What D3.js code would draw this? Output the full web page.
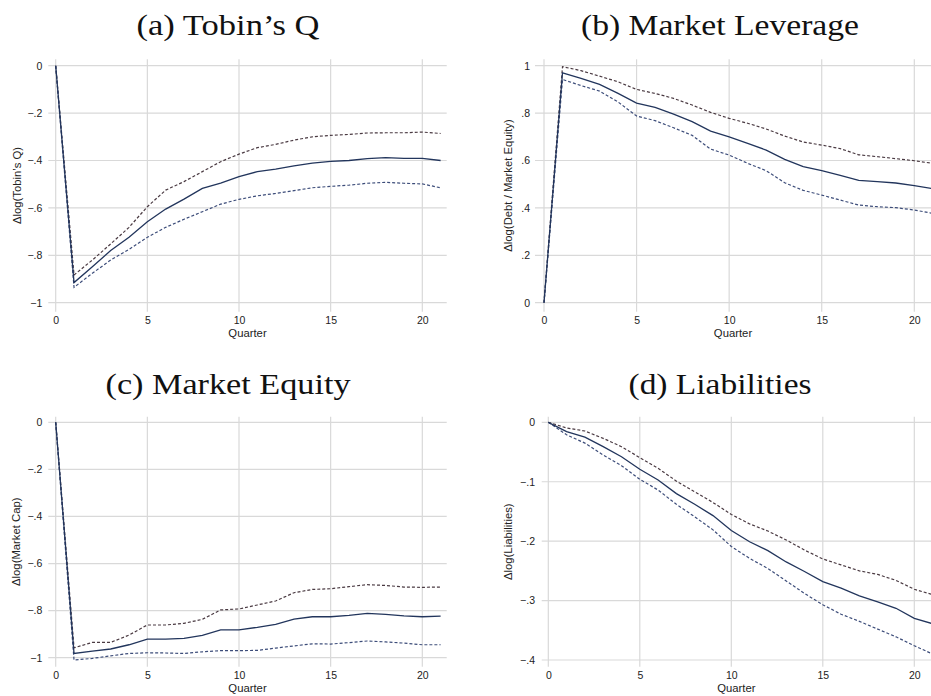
<!DOCTYPE html>
<html lang="en">
<head>
    <meta charset="UTF-8">
    <title>Impulse responses</title>
    <script src="https://d3js.org/d3.v7.min.js"></script>
    <style>
        body { margin: 0; background: #fff; }
        .title { font-family: "Liberation Serif", serif; font-size: 29px; fill: #111; }
        .tick text { font-family: "Liberation Sans", Arial, sans-serif; font-size: 10.5px; fill: #222; }
        .axis-label { font-family: "Liberation Sans", Arial, sans-serif; font-size: 11.3px; fill: #222; }
        .grid { stroke: #d9d9d9; stroke-width: 1.2; }
    </style>
</head>
<body>
    <script>
        const quarters = [0, 1, 2, 3, 4, 5, 6, 7, 8, 9, 10, 11, 12, 13, 14, 15, 16, 17, 18, 19, 20, 21]
        const xTicks = [0, 5, 10, 15, 20]

        const tobinQ = [0, -0.915, -0.848, -0.78, -0.724, -0.658, -0.605, -0.563, -0.518, -0.495, -0.468, -0.447, -0.436, -0.423, -0.411, -0.404, -0.40, -0.392, -0.388, -0.391, -0.391, -0.40]
        const tobinQUpper = [0, -0.883, -0.82, -0.752, -0.682, -0.595, -0.525, -0.489, -0.447, -0.405, -0.373, -0.346, -0.332, -0.314, -0.30, -0.294, -0.29, -0.284, -0.283, -0.283, -0.28, -0.286]
        const tobinQLower = [0, -0.935, -0.876, -0.82, -0.775, -0.724, -0.682, -0.648, -0.616, -0.584, -0.564, -0.549, -0.539, -0.527, -0.515, -0.509, -0.504, -0.496, -0.492, -0.496, -0.499, -0.515]

        const leverage = [0, 0.97, 0.947, 0.921, 0.883, 0.842, 0.824, 0.796, 0.764, 0.724, 0.70, 0.672, 0.644, 0.605, 0.574, 0.557, 0.537, 0.516, 0.511, 0.505, 0.494, 0.481]
        const leverageUpper = [0, 0.996, 0.979, 0.956, 0.932, 0.90, 0.883, 0.862, 0.834, 0.803, 0.778, 0.757, 0.733, 0.703, 0.678, 0.665, 0.65, 0.624, 0.616, 0.608, 0.599, 0.588]
        const leverageLower = [0, 0.942, 0.916, 0.893, 0.847, 0.788, 0.768, 0.738, 0.706, 0.648, 0.623, 0.588, 0.557, 0.506, 0.474, 0.454, 0.433, 0.412, 0.405, 0.401, 0.391, 0.377]

        const equity = [0, -0.982, -0.972, -0.963, -0.945, -0.921, -0.921, -0.918, -0.905, -0.882, -0.882, -0.871, -0.858, -0.836, -0.826, -0.826, -0.82, -0.812, -0.816, -0.822, -0.826, -0.823]
        const equityUpper = [0, -0.958, -0.935, -0.935, -0.904, -0.861, -0.861, -0.854, -0.837, -0.797, -0.793, -0.776, -0.759, -0.724, -0.71, -0.707, -0.698, -0.69, -0.693, -0.70, -0.701, -0.70]
        const equityLower = [0, -1.01, -1.003, -0.992, -0.982, -0.979, -0.98, -0.982, -0.975, -0.97, -0.97, -0.969, -0.959, -0.95, -0.941, -0.942, -0.936, -0.929, -0.933, -0.938, -0.945, -0.945]

        const liabilities = [0, -0.0157, -0.025, -0.041, -0.058, -0.079, -0.097, -0.12, -0.138, -0.157, -0.182, -0.201, -0.216, -0.235, -0.251, -0.268, -0.279, -0.292, -0.302, -0.313, -0.33, -0.339]
        const liabilitiesUpper = [0, -0.0095, -0.0146, -0.027, -0.041, -0.0595, -0.0774, -0.099, -0.117, -0.135, -0.155, -0.171, -0.183, -0.198, -0.215, -0.23, -0.24, -0.25, -0.256, -0.266, -0.281, -0.29]
        const liabilitiesLower = [0, -0.021, -0.035, -0.055, -0.073, -0.096, -0.114, -0.138, -0.159, -0.181, -0.209, -0.229, -0.246, -0.267, -0.288, -0.307, -0.323, -0.335, -0.348, -0.361, -0.376, -0.39]

        const panels = [
            {title: "(a) Tobin\u2019s Q", titleLen: 183, yLabel: "\u0394log(Tobin\u2019s Q)",
             mid: tobinQ, upper: tobinQUpper, lower: tobinQLower,
             yTicks: [0, -0.2, -0.4, -0.6, -0.8, -1], yDomain: [0, -1],
             box: {titleX: 228, titleY: 35, x0: 55.7, x20: 422.3, y0: 65.7, y1: 302.7,
                   left: 48.3, right: 446.7, top: 59.3, bottom: 311.7, labelR: 42.3, yLabX: 17}},
            {title: "(b) Market Leverage", titleLen: 278, yLabel: "\u0394log(Debt / Market Equity)",
             mid: leverage, upper: leverageUpper, lower: leverageLower,
             yTicks: [0, 0.2, 0.4, 0.6, 0.8, 1], yDomain: [0, 1],
             box: {titleX: 720, titleY: 35, x0: 544, x20: 914.3, y0: 302.7, y1: 65.7,
                   left: 535, right: 945, top: 59.3, bottom: 311.7, labelR: 530, yLabX: 508}},
            {title: "(c) Market Equity", titleLen: 245, yLabel: "\u0394log(Market Cap)",
             mid: equity, upper: equityUpper, lower: equityLower,
             yTicks: [0, -0.2, -0.4, -0.6, -0.8, -1], yDomain: [0, -1],
             box: {titleX: 228, titleY: 394, x0: 55.7, x20: 422.3, y0: 422.3, y1: 657.7,
                   left: 48.3, right: 446.7, top: 416.7, bottom: 666.7, labelR: 42.3, yLabX: 16}},
            {title: "(d) Liabilities", titleLen: 183, yLabel: "\u0394log(Liabilities)",
             mid: liabilities, upper: liabilitiesUpper, lower: liabilitiesLower,
             yTicks: [0, -0.1, -0.2, -0.3, -0.4], yDomain: [0, -0.4],
             box: {titleX: 720, titleY: 394, x0: 548.3, x20: 914.3, y0: 422.3, y1: 660,
                   left: 541.7, right: 945, top: 416.7, bottom: 666.7, labelR: 535, yLabX: 508}}
        ]

        const fmt = v => {
            if (v === 0) return "0"
            let s = String(Math.abs(+v.toFixed(2))).replace(/^0\./, ".")
            return (v < 0 ? "\u2212" : "") + s
        }

        const svg = d3.select("body").append("svg")
            .attr("width", 931)
            .attr("height", 696)

        panels.forEach(p => {
            const b = p.box
            const x = d3.scaleLinear().domain([0, 20]).range([b.x0, b.x20])
            const y = d3.scaleLinear().domain(p.yDomain).range([b.y0, b.y1])
            const g = svg.append("g")

            g.append("text")
                .attr("class", "title")
                .attr("x", b.titleX)
                .attr("y", b.titleY)
                .attr("text-anchor", "middle")
                .attr("textLength", p.titleLen)
                .attr("lengthAdjust", "spacingAndGlyphs")
                .text(p.title)

            // grid
            g.selectAll(".hgrid").data(p.yTicks).enter().append("line")
                .attr("class", "grid")
                .attr("x1", b.left).attr("x2", b.right)
                .attr("y1", d => y(d)).attr("y2", d => y(d))
            g.selectAll(".vgrid").data(xTicks).enter().append("line")
                .attr("class", "grid")
                .attr("x1", d => x(d)).attr("x2", d => x(d))
                .attr("y1", b.top).attr("y2", b.bottom)

            // axes (labels only)
            const xa = g.append("g")
                .attr("transform", "translate(0," + (b.bottom + 5.3) + ")")
                .call(d3.axisBottom(x).tickValues(xTicks).tickSize(0).tickPadding(0))
            xa.select(".domain").remove()

            const ya = g.append("g")
                .attr("transform", "translate(" + b.labelR + ",0)")
                .call(d3.axisLeft(y).tickValues(p.yTicks).tickSize(0).tickPadding(0).tickFormat(fmt))
            ya.select(".domain").remove()

            g.append("text")
                .attr("class", "axis-label")
                .attr("x", (b.left + b.right) / 2 - (b.right > 931 ? 7 : 0))
                .attr("y", b.bottom + 25.5)
                .attr("text-anchor", "middle")
                .text("Quarter")

            g.append("text")
                .attr("class", "axis-label")
                .attr("transform", "translate(" + b.yLabX + "," + ((b.top + b.bottom) / 2) + ") rotate(-90)")
                .attr("text-anchor", "middle")
                .attr("dy", "0.35em")
                .text(p.yLabel)

            const line = vals => d3.line()
                .x((d, i) => x(quarters[i]))
                .y(d => y(d))(vals)

            g.append("path").attr("d", line(p.upper))
                .attr("fill", "none").attr("stroke", "#4a3a42")
                .attr("stroke-width", 1.2).attr("stroke-dasharray", "3,2")
            g.append("path").attr("d", line(p.lower))
                .attr("fill", "none").attr("stroke", "#3d4d7a")
                .attr("stroke-width", 1.2).attr("stroke-dasharray", "3,2")
            g.append("path").attr("d", line(p.mid))
                .attr("fill", "none").attr("stroke", "#22355c")
                .attr("stroke-width", 1.3)
        })
    </script>
</body>
</html>
